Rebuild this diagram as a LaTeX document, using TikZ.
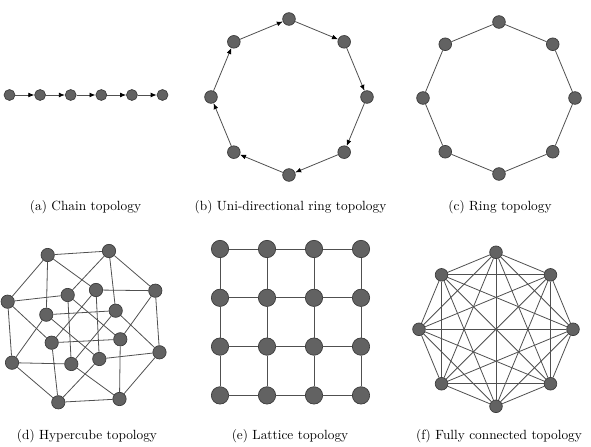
\documentclass[tikz,border=0pt]{standalone}
\usepackage{tikz}
\usetikzlibrary{arrows.meta,positioning,calc}
\definecolor{NodeFill}{HTML}{626262}
\definecolor{NodeLine}{HTML}{3A3A3A}
\definecolor{LinkGray}{HTML}{505050}

\begin{document}
\begin{tikzpicture}[
  x=0.75pt, y=0.75pt,
  vtx/.style={circle,draw=NodeLine,fill=NodeFill,line width=0.5pt,
              inner sep=0pt,minimum size=#1},
  vtx/.default=9.5pt,
  lnk/.style={draw=LinkGray,line width=0.6pt},
  arr/.style={lnk,-{Latex[length=4.5pt,width=3.6pt,color=black]}},
  subcap/.style={anchor=base,font=\normalsize}
]
  \useasboundingbox (0,0) rectangle (591,446);

  % (a) Chain
  \foreach \k in {0,...,5}
    \node[vtx=8.2pt] (a\k) at (9.5+30.6*\k,351) {};
  \foreach \k [evaluate=\k as \j using int(\k+1)] in {0,...,4}
    \draw[arr] (a\k) -- (a\j);
  \node[subcap] (capa) at (85.5,235) {(a) Chain topology};

  % (b) Uni-directional ring
  \foreach \k [evaluate=\k as \ang using 90-45*\k] in {0,...,7}
    \node[vtx] (b\k) at ($(289,349)+(\ang:78)$) {};
  \foreach \k [evaluate=\k as \j using {int(mod(\k+1,8))}] in {0,...,7}
    \draw[arr] (b\k) -- (b\j);
  \node[subcap] (capb) at (290.5,235) {(b) Uni-directional ring topology};

  % (c) Ring
  \foreach \k [evaluate=\k as \ang using 90-45*\k] in {0,...,7}
    \node[vtx] (c\k) at ($(499,348)+(\ang:76)$) {};
  \foreach \k [evaluate=\k as \j using {int(mod(\k+1,8))}] in {0,...,7}
    \draw[lnk] (c\k) -- (c\j);
  \node[subcap] (capc) at (500,235) {(c) Ring topology};

  % (d) Hypercube
  \node[vtx=10pt] (d1)  at (47.7,191)  {};
  \node[vtx=10pt] (d2)  at (109,195)   {};
  \node[vtx=10pt] (d3)  at (7.7,144.3) {};
  \node[vtx=10pt] (d4)  at (67.7,151)  {};
  \node[vtx=10pt] (d5)  at (96,156)    {};
  \node[vtx=10pt] (d6)  at (155.3,155.3) {};
  \node[vtx=10pt] (d7)  at (46.3,131.3) {};
  \node[vtx=10pt] (d8)  at (115.7,135.3) {};
  \node[vtx=10pt] (d9)  at (51.7,103.3) {};
  \node[vtx=10pt] (d10) at (120.3,106.7) {};
  \node[vtx=10pt] (d11) at (12,83.3)   {};
  \node[vtx=10pt] (d12) at (71.3,82)   {};
  \node[vtx=10pt] (d13) at (99.3,87)   {};
  \node[vtx=10pt] (d14) at (159.5,93.7) {};
  \node[vtx=10pt] (d15) at (58.3,43.7) {};
  \node[vtx=10pt] (d16) at (119.5,47)  {};
  \foreach \p/\q in {1/2,1/3,1/5,1/7,2/4,2/6,2/8,3/4,3/9,3/11,4/10,4/12,
                     5/6,5/9,5/13,6/10,6/14,7/8,7/11,7/13,8/12,8/14,9/10,
                     9/15,10/16,11/12,11/15,12/16,13/14,13/15,14/16,15/16}
    \draw[lnk] (d\p) -- (d\q);
  \node[subcap] (capd) at (87,7) {(d) Hypercube topology};

  % (e) Lattice
  \foreach \i in {0,...,3}
    \foreach \j in {0,...,3}
      \node[vtx=13pt] (e\i\j) at (220+47*\i,197-48.8*\j) {};
  \foreach \i [evaluate=\i as \n using int(\i+1)] in {0,...,2}
    \foreach \j in {0,...,3} {
      \draw[lnk] (e\i\j) -- (e\n\j);
      \draw[lnk] (e\j\i) -- (e\j\n);
    }
  \node[subcap] (cape) at (290,7) {(e) Lattice topology};

  % (f) Fully connected
  \foreach \k [evaluate=\k as \ang using 90-45*\k] in {0,...,7}
    \node[vtx] (f\k) at ($(496,116.7)+(\ang:77)$) {};
  \foreach \p in {0,...,7}
    \foreach \q in {0,...,7}
      {\ifnum\p<\q \draw[lnk] (f\p) -- (f\q); \fi}
  \node[subcap] (capf) at (499,7) {(f) Fully connected topology};
\end{tikzpicture}
\end{document}
